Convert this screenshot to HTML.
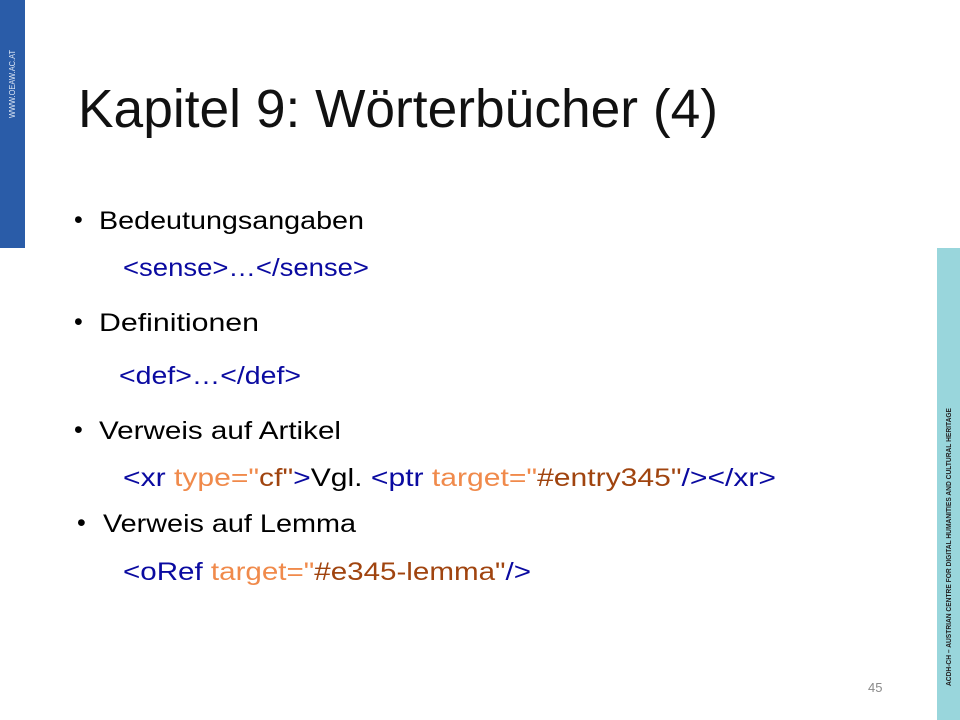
<!DOCTYPE html>
<html><head><meta charset="utf-8"><style>
html,body{margin:0;padding:0;background:#fff;width:960px;height:720px;overflow:hidden}
svg{display:block}
text{font-family:"Liberation Sans",sans-serif}
</style></head><body>
<svg width="960" height="720" viewBox="0 0 960 720" xmlns="http://www.w3.org/2000/svg">
<rect x="0" y="0" width="25" height="248" fill="#2a5ca8"/>
<text transform="translate(15,118) rotate(-90)" font-size="8" fill="#dfe8f5" textLength="68" lengthAdjust="spacingAndGlyphs">WWW.OEAW.AC.AT</text>
<rect x="937" y="248" width="23" height="472" fill="#99d6dc"/>
<text transform="translate(951,686) rotate(-90)" font-size="7" font-weight="bold" fill="#222" textLength="278" lengthAdjust="spacingAndGlyphs">ACDH-CH – AUSTRIAN CENTRE FOR DIGITAL HUMANITIES AND CULTURAL HERITAGE</text>

<text x="78" y="127" font-size="54" fill="#111" textLength="640" lengthAdjust="spacingAndGlyphs">Kapitel 9: Wörterbücher (4)</text>

<g font-size="25">
<text x="74" y="228" fill="#000">•</text>
<text x="99" y="229" fill="#000" textLength="265" lengthAdjust="spacingAndGlyphs">Bedeutungsangaben</text>
<text x="123" y="276" fill="#0a0aa0" textLength="246" lengthAdjust="spacingAndGlyphs">&lt;sense&gt;…&lt;/sense&gt;</text>

<text x="74" y="330" fill="#000">•</text>
<text x="99" y="331" fill="#000" textLength="160" lengthAdjust="spacingAndGlyphs">Definitionen</text>
<text x="119" y="384" fill="#0a0aa0" textLength="182" lengthAdjust="spacingAndGlyphs">&lt;def&gt;…&lt;/def&gt;</text>

<text x="74" y="438" fill="#000">•</text>
<text x="99" y="439" fill="#000" textLength="242" lengthAdjust="spacingAndGlyphs">Verweis auf Artikel</text>
<text x="123" y="486" textLength="653" lengthAdjust="spacingAndGlyphs"><tspan fill="#0a0aa0">&lt;xr </tspan><tspan fill="#f08a4b">type="</tspan><tspan fill="#a0440f">cf"</tspan><tspan fill="#0a0aa0">&gt;</tspan><tspan fill="#000">Vgl. </tspan><tspan fill="#0a0aa0">&lt;ptr </tspan><tspan fill="#f08a4b">target="</tspan><tspan fill="#a0440f">#entry345"</tspan><tspan fill="#0a0aa0">/&gt;&lt;/xr&gt;</tspan></text>

<text x="77" y="531" fill="#000">•</text>
<text x="103" y="532" fill="#000" textLength="253" lengthAdjust="spacingAndGlyphs">Verweis auf Lemma</text>
<text x="123" y="580" textLength="408" lengthAdjust="spacingAndGlyphs"><tspan fill="#0a0aa0">&lt;oRef </tspan><tspan fill="#f08a4b">target="</tspan><tspan fill="#a0440f">#e345-lemma"</tspan><tspan fill="#0a0aa0">/&gt;</tspan></text>
</g>
<text x="868" y="692" font-size="13" fill="#8a8a8a">45</text>
</svg>
</body></html>
